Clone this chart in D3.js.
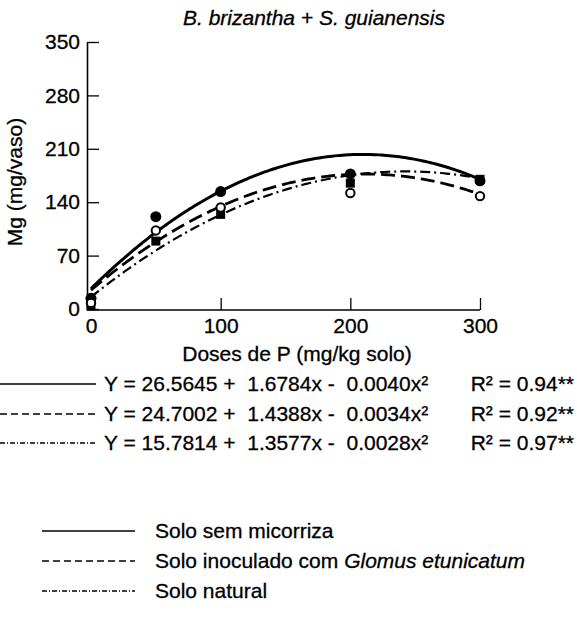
<!DOCTYPE html>
<html>
<head>
<meta charset="utf-8">
<script src="https://cdn.jsdelivr.net/npm/d3@7"></script>
<style>
    body { margin: 0; background: #fff; }
    svg { font-family: "Liberation Sans", Arial, sans-serif; }
    svg text { stroke: #000; stroke-width: 0.3px; }
</style>
</head>
<body>
<div id="chart"></div>
<script>
// data
var doses = [0, 50, 100, 200, 300];
var semMicorriza = [14, 121, 154, 177, 168];
var inoculado = [8, 103, 133, 152, 148];
var natural = [4, 89, 124, 165, 170];

// regression coefficients (Y = a + bx + cx^2)
var eqA = [26.5645, 24.7002, 15.7814];
var eqB = [1.6784, 1.4388, 1.3577];
var eqC = [-0.0040, -0.0034, -0.0028];
var eqLabels = [
    "Y = 26.5645 +  1.6784x -  0.0040x²",
    "Y = 24.7002 +  1.4388x -  0.0034x²",
    "Y = 15.7814 +  1.3577x -  0.0028x²"
];
var r2Labels = ["R² = 0.94**", "R² = 0.92**", "R² = 0.97**"];
var seriesNames = ["Solo sem micorriza", "Solo inoculado com ", "Solo natural"];

var xTicks = [0, 100, 200, 300];
var yTicks = [0, 70, 140, 210, 280, 350];

chart();

function chart() {
    var width = 577;
    var height = 627;

    var svg = d3.select("#chart")
        .append("svg")
        .attr("width", width)
        .attr("height", height);

    var x = d3.scaleLinear().domain([0, 300]).range([91, 480]);
    var y = d3.scaleLinear().domain([0, 350]).range([309, 42]);

    var dashes = [null, "14,6", "10,4,2,4"];
    var widths = [3, 2.8, 2.2];

    // title
    svg.append("text")
        .attr("x", 314)
        .attr("y", 25)
        .attr("text-anchor", "middle")
        .style("font-size", "21px")
        .style("font-style", "italic")
        .text("B. brizantha + S. guianensis");

    // axes, ticks pointing inward
    var yAxis = d3.axisLeft(y).tickValues(yTicks).tickSize(-12).tickPadding(7).tickSizeOuter(0);
    var gy = svg.append("g")
        .attr("transform", "translate(87,0)")
        .call(yAxis);

    var xAxis = d3.axisBottom(x).tickValues(xTicks).tickSize(-12).tickPadding(7).tickSizeOuter(0);
    var gx = svg.append("g")
        .attr("transform", "translate(0,310)")
        .call(xAxis);

    svg.selectAll(".domain").attr("stroke", "#000").attr("stroke-width", 1.6);
    svg.selectAll(".tick line").attr("stroke", "#000").attr("stroke-width", 1.3);
    svg.selectAll(".tick text")
        .attr("fill", "#000")
        .style("font-size", "21px")
        .style("font-family", "Liberation Sans, Arial, sans-serif");
    gx.selectAll(".tick text").attr("dy", "0.75em");
    // stretch x axis line to the y axis
    gx.select(".domain").attr("d", "M87,0H" + x(300));

    // axis titles
    svg.append("text")
        .attr("transform", "translate(22,182) rotate(-90)")
        .attr("text-anchor", "middle")
        .style("font-size", "21px")
        .text("Mg (mg/vaso)");

    svg.append("text")
        .attr("x", 297)
        .attr("y", 361)
        .attr("text-anchor", "middle")
        .style("font-size", "21px")
        .text("Doses de P (mg/kg solo)");

    // fitted curves
    var line = d3.line()
        .x(function(d) { return x(d[0]); })
        .y(function(d) { return y(d[1]); });

    for (let i = 0; i < 3; i++) {
        let pts = d3.range(0, 301, 2).map(function(v) {
            return [v, eqA[i] + eqB[i] * v + eqC[i] * v * v];
        });
        svg.append("path")
            .datum(pts)
            .attr("fill", "none")
            .attr("stroke", "#000")
            .attr("stroke-width", widths[i])
            .attr("stroke-dasharray", dashes[i])
            .attr("d", line);
    }

    // markers: squares first, then filled and open circles
    svg.append("g")
        .selectAll("rect")
        .data(doses)
        .enter()
        .append("rect")
        .attr("x", function(d) { return x(d) - 4.5; })
        .attr("y", function(d, i) { return y(natural[i]) - 4.5; })
        .attr("width", 9)
        .attr("height", 9)
        .attr("fill", "#000");

    svg.append("g")
        .selectAll("circle")
        .data(doses)
        .enter()
        .append("circle")
        .attr("cx", function(d) { return x(d); })
        .attr("cy", function(d, i) { return y(semMicorriza[i]); })
        .attr("r", 5.5)
        .attr("fill", "#000");

    svg.append("g")
        .selectAll("circle")
        .data(doses)
        .enter()
        .append("circle")
        .attr("cx", function(d) { return x(d); })
        .attr("cy", function(d, i) { return y(inoculado[i]); })
        .attr("r", 4.2)
        .attr("fill", "#fff")
        .attr("stroke", "#000")
        .attr("stroke-width", 2);

    // equations block
    var eqY = [391, 421, 450];
    var eqDash = [null, "7,4", "5,2,1,2"];
    for (let i = 0; i < 3; i++) {
        svg.append("line")
            .attr("x1", 0).attr("x2", 96)
            .attr("y1", eqY[i] - 7).attr("y2", eqY[i] - 7)
            .attr("stroke", "#000")
            .attr("stroke-width", 1.4)
            .attr("stroke-dasharray", eqDash[i]);
        svg.append("text")
            .attr("x", 104)
            .attr("y", eqY[i])
            .style("font-size", "21px")
            .attr("xml:space", "preserve")
            .text(eqLabels[i]);
        svg.append("text")
            .attr("x", 574)
            .attr("y", eqY[i])
            .attr("text-anchor", "end")
            .style("font-size", "21px")
            .text(r2Labels[i]);
    }

    // legend
    var legY = [538, 568, 598];
    for (let i = 0; i < 3; i++) {
        svg.append("line")
            .attr("x1", 42).attr("x2", 135)
            .attr("y1", legY[i] - 7).attr("y2", legY[i] - 7)
            .attr("stroke", "#000")
            .attr("stroke-width", 1.4)
            .attr("stroke-dasharray", eqDash[i]);
        var t = svg.append("text")
            .attr("x", 155)
            .attr("y", legY[i])
            .style("font-size", "21px")
            .attr("xml:space", "preserve")
            .text(seriesNames[i]);
        if (i == 1) {
            t.append("tspan")
                .style("font-style", "italic")
                .text("Glomus etunicatum");
        }
    }
}
</script>
</body>
</html>
